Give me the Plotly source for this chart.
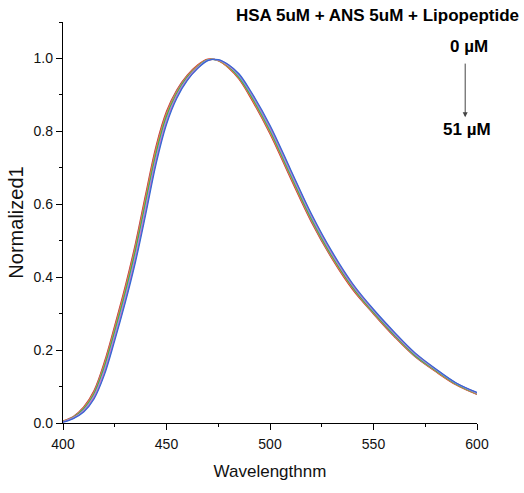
import plotly.graph_objects as go

wavelength = [400, 405, 410, 415, 420, 425, 430, 435, 440, 445, 450, 455, 460, 465, 470,
              475, 480, 485, 490, 500, 510, 520, 530, 540, 550, 560, 570, 580, 590, 600]

s1 = [0.006, 0.018, 0.044, 0.089, 0.168, 0.268, 0.374, 0.493, 0.630, 0.761, 0.855, 0.914, 0.954, 0.982, 0.998,
      0.994, 0.974, 0.943, 0.898, 0.793, 0.670, 0.551, 0.450, 0.365, 0.299, 0.237, 0.182, 0.141, 0.104, 0.078]
s2 = [0.005, 0.017, 0.042, 0.086, 0.163, 0.262, 0.367, 0.486, 0.622, 0.754, 0.850, 0.911, 0.952, 0.980, 0.997,
      0.994, 0.975, 0.945, 0.901, 0.796, 0.674, 0.554, 0.452, 0.368, 0.300, 0.239, 0.183, 0.142, 0.105, 0.079]
s3 = [0.005, 0.016, 0.040, 0.082, 0.158, 0.256, 0.361, 0.478, 0.614, 0.747, 0.845, 0.907, 0.950, 0.979, 0.997,
      0.994, 0.976, 0.947, 0.903, 0.799, 0.677, 0.558, 0.455, 0.370, 0.302, 0.241, 0.185, 0.143, 0.106, 0.080]
s4 = [0.004, 0.015, 0.038, 0.079, 0.153, 0.250, 0.354, 0.471, 0.606, 0.739, 0.840, 0.904, 0.948, 0.977, 0.996,
      0.995, 0.978, 0.949, 0.906, 0.803, 0.681, 0.561, 0.458, 0.372, 0.304, 0.242, 0.186, 0.145, 0.107, 0.081]
s5 = [0.004, 0.014, 0.036, 0.076, 0.148, 0.244, 0.348, 0.463, 0.598, 0.732, 0.835, 0.901, 0.946, 0.976, 0.996,
      0.995, 0.979, 0.951, 0.909, 0.806, 0.684, 0.564, 0.461, 0.375, 0.306, 0.244, 0.188, 0.146, 0.108, 0.082]
s6 = [0.003, 0.014, 0.034, 0.073, 0.143, 0.238, 0.341, 0.456, 0.590, 0.725, 0.830, 0.898, 0.944, 0.975, 0.995,
      0.996, 0.980, 0.954, 0.912, 0.810, 0.688, 0.568, 0.464, 0.377, 0.308, 0.246, 0.190, 0.147, 0.109, 0.082]
s7 = [0.003, 0.013, 0.032, 0.069, 0.137, 0.232, 0.334, 0.448, 0.581, 0.718, 0.824, 0.894, 0.941, 0.973, 0.995,
      0.996, 0.982, 0.956, 0.914, 0.813, 0.692, 0.571, 0.467, 0.379, 0.310, 0.248, 0.191, 0.148, 0.109, 0.083]
s8 = [0.002, 0.012, 0.030, 0.066, 0.132, 0.226, 0.328, 0.441, 0.573, 0.711, 0.819, 0.891, 0.939, 0.972, 0.994,
      0.997, 0.983, 0.958, 0.917, 0.817, 0.695, 0.574, 0.470, 0.382, 0.312, 0.250, 0.193, 0.149, 0.110, 0.084]

series = [s1, s2, s3, s4, s5, s6, s7, s8]
colors = ["#e0302a", "#8c8c8c", "#f08a1c", "#3aa33a", "#2bbfd0", "#e57fc8", "#9a6bc8", "#3568d4"]

title_text = "HSA 5uM + ANS 5uM + Lipopeptide"
start_label = "0 µM"
end_label = "51 µM"

fig = go.Figure()
for vals, col in zip(series, colors):
    fig.add_trace(go.Scatter(x=wavelength, y=vals, mode="lines",
                             line=dict(color=col, width=1.2, shape="spline"),
                             showlegend=False))

font_main = "Liberation Sans, Arial, sans-serif"

fig.update_layout(
    width=524, height=493,
    margin=dict(l=63, r=47, t=22, b=70),
    paper_bgcolor="white", plot_bgcolor="white",
    font=dict(family=font_main, color="black", size=14),
    xaxis=dict(range=[400, 600], dtick=50, tick0=400, showgrid=False, zeroline=False,
               showline=True, linecolor="black", linewidth=1.3,
               ticks="outside", ticklen=6, tickwidth=1.2, tickcolor="black",
               tickfont=dict(size=14, color="#111"), ticklabelstandoff=2,
               minor=dict(dtick=25, tick0=400, ticks="outside", ticklen=3, tickcolor="black", tickwidth=1),
               title=dict(text="Wavelengthnm", font=dict(size=17, color="#111"), standoff=14)),
    yaxis=dict(range=[0, 1.1], dtick=0.2, tick0=0, tickformat=".1f", showgrid=False, zeroline=False,
               showline=True, linecolor="black", linewidth=1.3,
               ticks="outside", ticklen=6, tickwidth=1.2, tickcolor="black",
               tickfont=dict(size=14, color="#111"),
               minor=dict(dtick=0.1, tick0=0, ticks="outside", ticklen=3, tickcolor="black", tickwidth=1),
               title=dict(text="Normalized1", font=dict(size=20, color="#111"), standoff=4)),
)

fig.add_annotation(x=0.760, y=1.016, xref="paper", yref="paper", xanchor="center", yanchor="middle",
                   text="<b>" + title_text + "</b>",
                   showarrow=False, font=dict(size=17, color="black", family=font_main))
fig.add_annotation(x=596.3, y=1.034, xref="x", yref="y", xanchor="center", yanchor="middle",
                   text="<b>" + start_label + "</b>",
                   showarrow=False, font=dict(size=17, color="black", family=font_main))
fig.add_annotation(x=595.3, y=0.806, xref="x", yref="y", xanchor="center", yanchor="middle",
                   text="<b>" + end_label + "</b>",
                   showarrow=False, font=dict(size=17, color="black", family=font_main))
fig.add_annotation(x=594.3, y=0.839, ax=594.3, ay=0.99, xref="x", yref="y", axref="x", ayref="y",
                   text="", showarrow=True, arrowhead=2, arrowsize=1, arrowwidth=1, arrowcolor="#444")

fig.write_html("out.html")
